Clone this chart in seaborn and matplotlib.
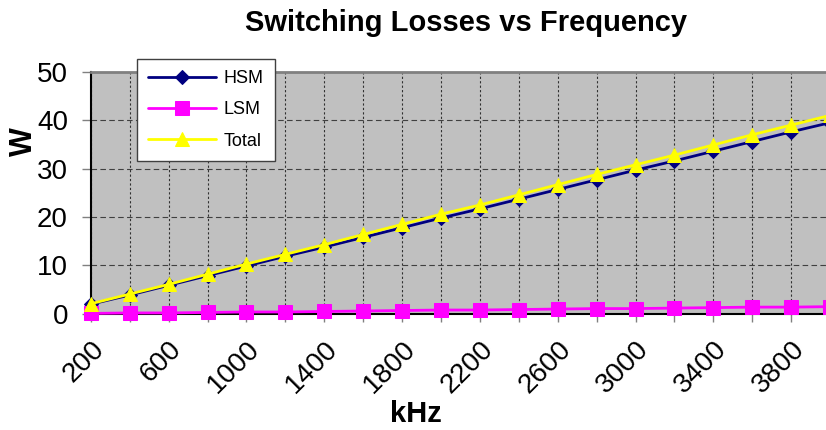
import numpy as np
import pandas as pd
import seaborn as sns
import matplotlib.pyplot as plt

# switching losses (W) at each frequency (kHz)
freq_khz = [200, 400, 600, 800, 1000, 1200, 1400, 1600, 1800, 2000,
            2200, 2400, 2600, 2800, 3000, 3200, 3400, 3600, 3800, 4000]
hsm = [2.0, 3.9, 5.9, 7.9, 9.9, 11.9, 13.8, 15.8, 17.8, 19.8,
       21.7, 23.7, 25.7, 27.7, 29.7, 31.6, 33.6, 35.6, 37.6, 39.5]
lsm = [0.1, 0.2, 0.2, 0.3, 0.4, 0.4, 0.5, 0.6, 0.7, 0.8,
       0.8, 0.9, 1.0, 1.1, 1.1, 1.2, 1.3, 1.4, 1.4, 1.5]
total = [2.1, 4.1, 6.1, 8.2, 10.3, 12.3, 14.3, 16.4, 18.5, 20.6,
         22.5, 24.6, 26.7, 28.8, 30.8, 32.8, 34.9, 37.0, 39.0, 41.0]

df = pd.DataFrame({'kHz': freq_khz, 'HSM': hsm, 'LSM': lsm, 'Total': total})

sns.set_style('white')
plt.rcParams['font.family'] = ['Liberation Sans', 'DejaVu Sans']
plt.rcParams['text.color'] = 'black'
plt.rcParams['axes.labelcolor'] = 'black'
plt.rcParams['xtick.color'] = 'black'
plt.rcParams['ytick.color'] = 'black'

fig = plt.figure(figsize=(8.26, 4.3), dpi=100)
ax = fig.add_axes([0.110, 0.270, 0.895, 0.563])
ax.set_facecolor('#c0c0c0')

styles = [('HSM', '#000080', 'D', 7), ('LSM', '#ff00ff', 's', 9.5), ('Total', '#ffff00', '^', 10)]
for name, col, mk, ms in styles:
    sns.lineplot(data=df, x='kHz', y=name, ax=ax, color=col, marker=mk,
                 markersize=ms, markeredgecolor=col, linewidth=2, label=name,
                 clip_on=False, zorder=3)

ax.set_xlim(200, 4000)
ax.set_ylim(0, 50)
ax.set_xticks(freq_khz)
ax.set_xticklabels([str(v) if i % 2 == 0 else '' for i, v in enumerate(freq_khz)],
                   rotation=45, ha='right', rotation_mode='anchor', fontsize=20)
ax.set_yticks([0, 10, 20, 30, 40, 50])
ax.tick_params(axis='y', labelsize=20, length=6.5, width=1, color='#808080',
               direction='out', left=True, pad=10)
ax.tick_params(axis='x', length=6, width=1, color='#808080', direction='out',
               bottom=True, pad=10)

ax.yaxis.grid(True, color='#404040', linestyle=(0, (5, 3)), linewidth=0.8)
ax.xaxis.grid(True, color='#303030', linestyle=(0, (2, 2)), linewidth=0.8)
ax.set_axisbelow(True)

for s in ['left', 'bottom']:
    ax.spines[s].set_color('black')
    ax.spines[s].set_linewidth(1.5)
ax.spines['top'].set_color('#808080')
ax.spines['top'].set_linewidth(2)
ax.spines['right'].set_visible(False)

ax.set_xlabel('kHz', fontsize=21, fontweight='bold')
ax.xaxis.set_label_coords(0.44, -0.355)
ax.set_ylabel('W', fontsize=22, fontweight='bold', va='center')
ax.yaxis.set_label_coords(-0.09, 0.71)
fig.suptitle('Switching Losses vs Frequency', x=0.564, y=0.978, fontsize=21, fontweight='bold')

leg = ax.legend(loc='upper left', bbox_to_anchor=(137 / 826, 1 - 59 / 430),
                bbox_transform=fig.transFigure, fontsize=13, frameon=True,
                fancybox=False, edgecolor='#404040', framealpha=1, borderaxespad=0,
                handlelength=3.8, labelspacing=0.8, borderpad=0.6, handletextpad=0.4)
leg.get_frame().set_linewidth(1)
leg.set_zorder(5)

fig.savefig('out.png', dpi=100)
